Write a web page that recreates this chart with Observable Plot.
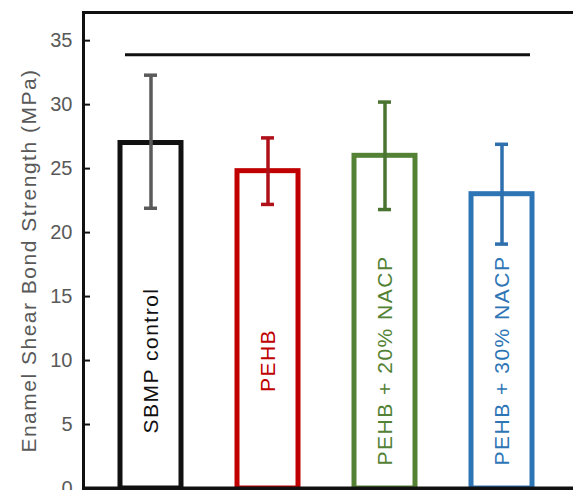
<!DOCTYPE html>
<html>
<head>
<meta charset="utf-8">
<script src="https://cdn.jsdelivr.net/npm/d3@7"></script>
<script src="https://cdn.jsdelivr.net/npm/@observablehq/plot@0.6"></script>
<style>
  html, body { margin: 0; padding: 0; background: #fff; }
  #chart { width: 573px; height: 490px; overflow: hidden; }
  #chart g[aria-label="text"] text { letter-spacing: 1.5px; }
</style>
</head>
<body>
<div id="chart"></div>
<script>
const categories = ["SBMP control", "PEHB", "PEHB + 20% NACP", "PEHB + 30% NACP"];
const means = [27.0, 24.8, 26.0, 23.0];
const lower = [21.9, 22.2, 21.8, 19.1];
const upper = [32.3, 27.4, 30.2, 26.9];
const barColors = ["#111111", "#c00000", "#548235", "#2e75b6"];
const errColors = ["#5a5a5a", "#b0101a", "#4a7530", "#2e6fae"];
const textColors = ["#111111", "#c00000", "#548235", "#2e75b6"];
const yTicks = [0, 5, 10, 15, 20, 25, 30, 35];
const yMax = 37.2;
const sigLevel = 33.9;
const yLabel = "Enamel Shear Bond Strength (MPa)";

const data = categories.map((c, i) => ({
  name: c, mean: means[i], lo: lower[i], hi: upper[i],
  bar: barColors[i], err: errColors[i], txt: textColors[i]
}));

const font = "Liberation Sans, Arial, Helvetica, sans-serif";
const W = 573, ML = 83, tickLen = 7;

const chart = Plot.plot({
  width: W,
  height: 490,
  marginTop: 12,
  marginBottom: 2,
  marginLeft: ML,
  marginRight: 0,
  style: {fontFamily: font, background: "#fff"},
  x: {domain: categories, range: [83, 569], paddingInner: 0.475, paddingOuter: 0.297, axis: null},
  y: {domain: [0, yMax]},
  marks: [
    Plot.barY(data, {x: "name", y: "mean", fill: "white", stroke: "bar", strokeWidth: 5}),
    Plot.ruleX(data, {x: "name", y1: "lo", y2: "hi", stroke: "err", strokeWidth: 3.5}),
    Plot.tickY(data, {x: "name", y: "lo", stroke: "err", strokeWidth: 3.5, insetLeft: 24, insetRight: 24}),
    Plot.tickY(data, {x: "name", y: "hi", stroke: "err", strokeWidth: 3.5, insetLeft: 24, insetRight: 24}),
    Plot.ruleY([sigLevel], {x1: () => categories[0], x2: () => categories[categories.length - 1], stroke: "#111", strokeWidth: 3, insetLeft: 5, insetRight: 2}),
    Plot.text(data, {x: "name", text: "name", fill: "txt", frameAnchor: "bottom", dy: -128, rotate: -90, textAnchor: "middle", lineAnchor: "middle", fontSize: 21}),
    Plot.axisY({ticks: yTicks, tickSize: 0, tickPadding: 11, color: "#595959", fontSize: 20, label: null}),
    Plot.ruleY(yTicks, {y: d => d, stroke: "#111", strokeWidth: 2, insetRight: W - ML - tickLen}),
    Plot.text([yLabel], {frameAnchor: "left", dx: -54, dy: 10, rotate: -90, textAnchor: "middle", lineAnchor: "middle", fill: "#595959", fontSize: 21}),
    Plot.ruleY([0], {stroke: "#111", strokeWidth: 4}),
    Plot.ruleY([yMax], {stroke: "#111", strokeWidth: 3}),
    Plot.frame({anchor: "left", stroke: "#111", strokeWidth: 3})
  ]
});
document.getElementById("chart").appendChild(chart);
</script>
</body>
</html>
